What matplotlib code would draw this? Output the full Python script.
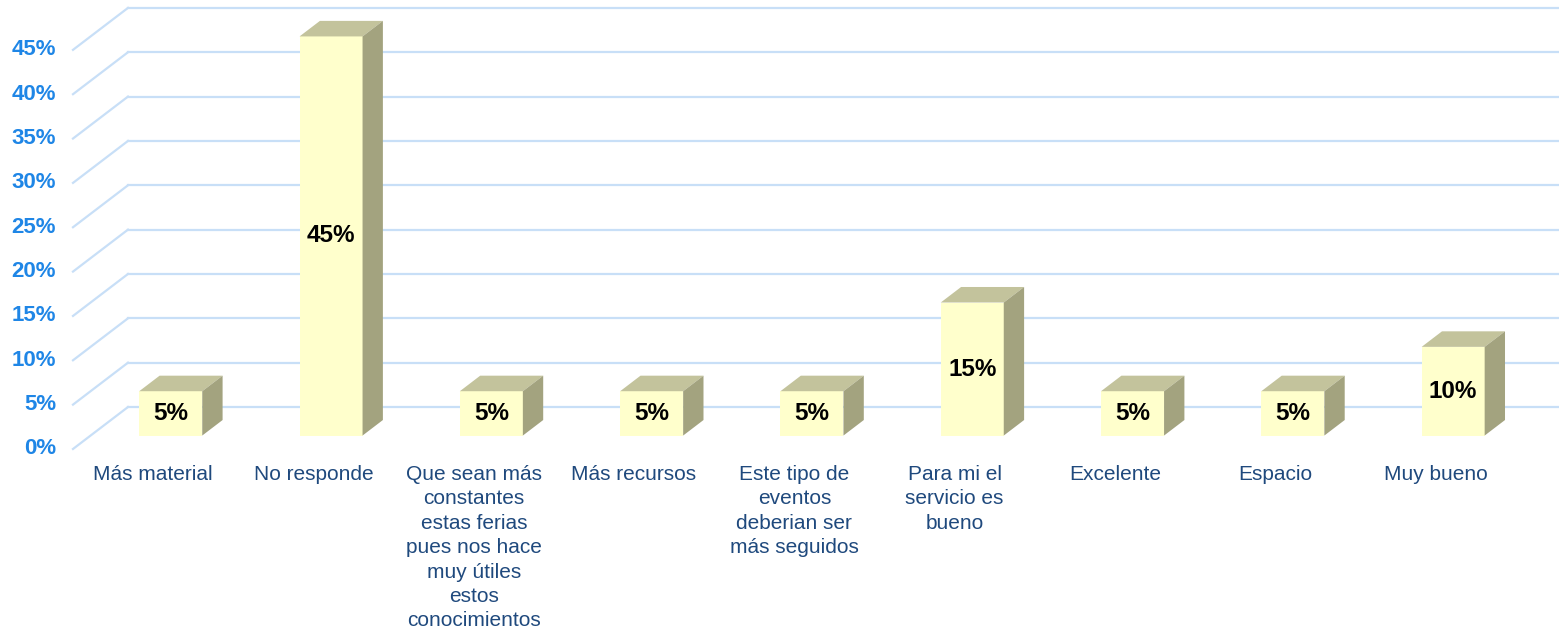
import numpy as np
import matplotlib.pyplot as plt

# data
categories = [
    "Más material",
    "No responde",
    "Que sean más\nconstantes\nestas ferias\npues nos hace\nmuy útiles\nestos\nconocimientos",
    "Más recursos",
    "Este tipo de\neventos\ndeberian ser\nmás seguidos",
    "Para mi el\nservicio es\nbueno",
    "Excelente",
    "Espacio",
    "Muy bueno",
]
values = [5, 45, 5, 5, 5, 15, 5, 5, 10]
yticks = [0, 5, 10, 15, 20, 25, 30, 35, 40, 45]

# oblique "3d" offset of the back wall, in data units (slots, percent)
depth_x = 0.343
depth_y = 4.73
t_front, t_back = 0.32, 0.69
bar_w = 0.393

front_col = "#FFFFCC"
top_col = "#C3C39C"
side_col = "#A3A37F"
grid_col = "#C8DFF7"

plt.rcParams['font.family'] = ['Liberation Sans', 'DejaVu Sans']

fig = plt.figure(figsize=(15.59, 6.30), dpi=100)
ax = fig.add_axes([0, 0, 1, 1])
ax.set_xlim(-0.4554, 9.27)
ax.set_ylim(-20.41, 50.62)
ax.axis('off')

n = len(categories)
xc = np.arange(n) + 0.5

# walls: diagonal side lines and back horizontal lines
for v in yticks:
    ax.plot([0, depth_x], [v, v + depth_y], color=grid_col, lw=1.6, zorder=1)
    ax.plot([depth_x, 10], [v + depth_y, v + depth_y], color=grid_col, lw=1.6, zorder=1)
    ax.text(-0.105, v, f"{v}%", ha='right', va='center', fontsize=16,
            fontweight='bold', color='#1F86E6')

# bars
x0 = xc + t_front * depth_x
base = t_front * depth_y
dxb = (t_back - t_front) * depth_x
dyb = (t_back - t_front) * depth_y
ax.bar(x0, values, width=bar_w, bottom=base, color=front_col, zorder=3,
       edgecolor='none')
for xi, v in zip(x0, values):
    l, r = xi - bar_w / 2, xi + bar_w / 2
    top = base + v
    ax.fill([l, r, r + dxb, l + dxb], [top, top, top + dyb, top + dyb],
            color=top_col, zorder=3, lw=0)
    ax.fill([r, r + dxb, r + dxb, r], [base, base + dyb, top + dyb, top],
            color=side_col, zorder=3, lw=0)
    ax.text(xi, base + v / 2, f"{v}%", ha='center', va='center', fontsize=17.5,
            fontweight='bold', color='black', zorder=4)

# category labels
for x, lab in zip(xc, categories):
    ax.text(x, -1.8, lab, ha='center', va='top', fontsize=15,
            color='#1F497D', linespacing=1.36)

fig.savefig("out.png", dpi=100)
